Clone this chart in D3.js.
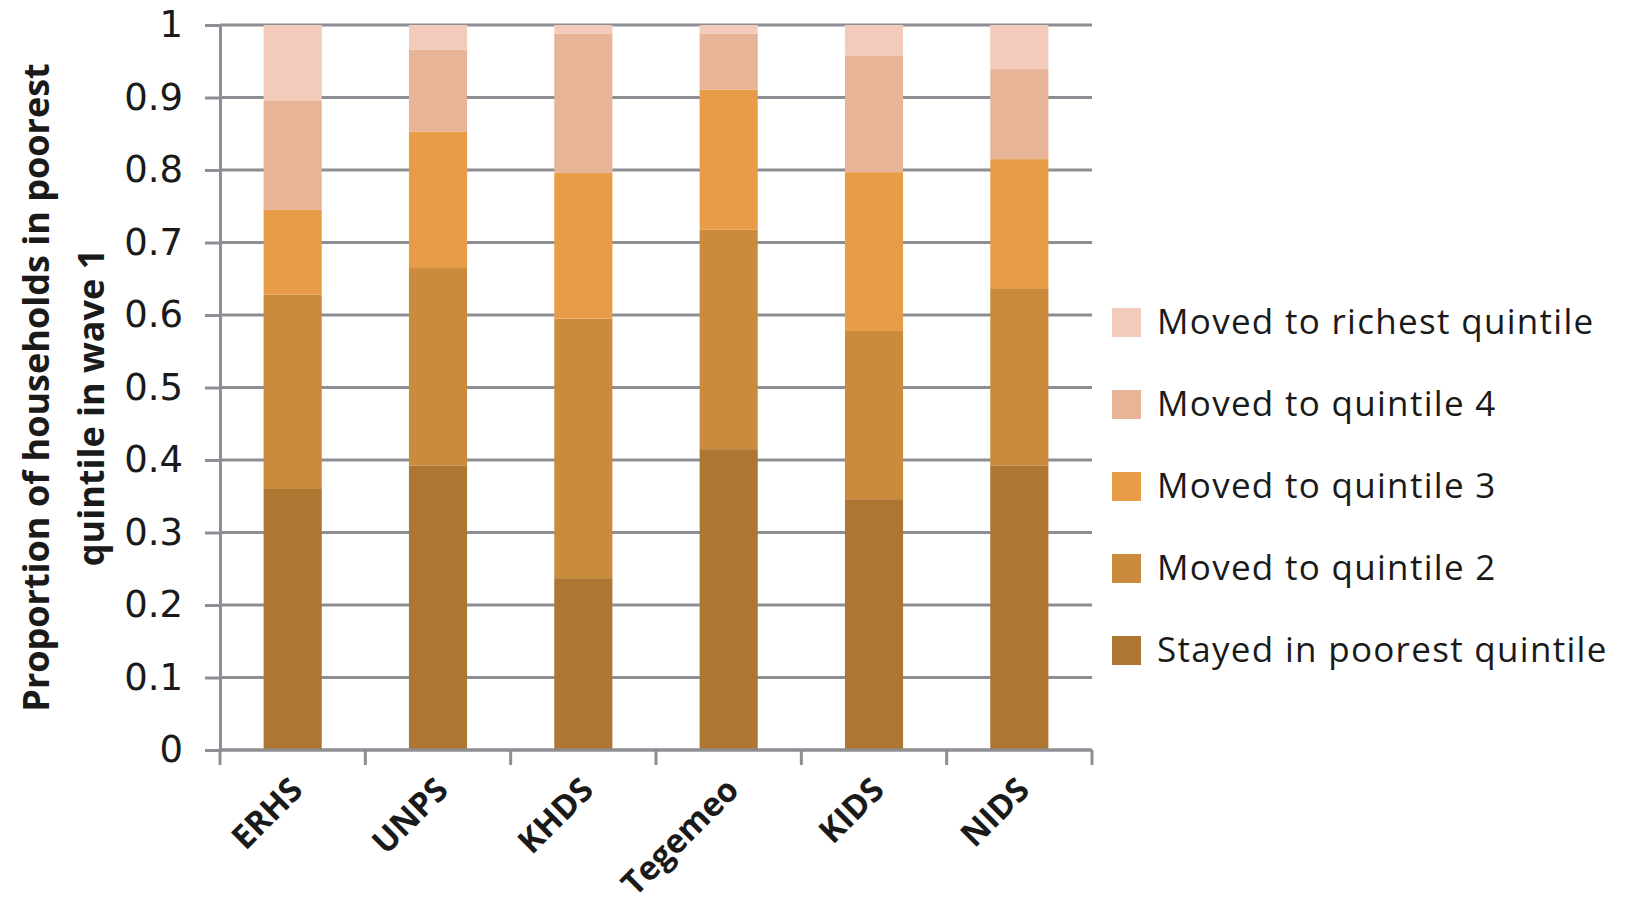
<!DOCTYPE html>
<html>
<head>
<meta charset="utf-8">
<script src="https://cdn.jsdelivr.net/npm/d3@7"></script>
<style>
  body { margin: 0; background: #fff; }
  svg { display: block; }
</style>
</head>
<body>
<div id="chart"></div>
<script>
'use strict';

var surveys = ['ERHS', 'UNPS', 'KHDS', 'Tegemeo', 'KIDS', 'NIDS'];

// bottom to top
var seriesNames = [
    'Stayed in poorest quintile',
    'Moved to quintile 2',
    'Moved to quintile 3',
    'Moved to quintile 4',
    'Moved to richest quintile'
];
var stayed    = [0.360, 0.392, 0.237, 0.415, 0.346, 0.392];
var quintile2 = [0.268, 0.274, 0.358, 0.303, 0.232, 0.245];
var quintile3 = [0.117, 0.187, 0.201, 0.193, 0.219, 0.178];
var quintile4 = [0.151, 0.113, 0.192, 0.077, 0.161, 0.125];
var richest   = [0.104, 0.034, 0.012, 0.012, 0.042, 0.060];
var colors = ['#ad7733', '#cb8b3c', '#e99c48', '#e8b497', '#f3cbbb'];

var yTicks = [0, 0.1, 0.2, 0.3, 0.4, 0.5, 0.6, 0.7, 0.8, 0.9, 1];

var W = 1627, H = 909;
var margin = { left: 220, right: 535, top: 25, bottom: 159 };
var gridColor = '#8d8e93';

var rows = surveys.map(function (s, i) {
    return {
        survey: s,
        s0: stayed[i], s1: quintile2[i], s2: quintile3[i], s3: quintile4[i], s4: richest[i]
    };
});
var keys = ['s0', 's1', 's2', 's3', 's4'];
var stacked = d3.stack().keys(keys)(rows);

var svg = d3.select('#chart').append('svg')
    .attr('width', W).attr('height', H);

var x = d3.scaleBand()
    .domain(surveys)
    .range([margin.left, W - margin.right])
    .paddingInner(0.6)
    .paddingOuter(0.3);

var y = d3.scaleLinear()
    .domain([0, 1])
    .range([H - margin.bottom, margin.top]);

// grid + y axis
var yAxis = svg.append('g')
    .attr('transform', 'translate(' + margin.left + ',0)')
    .call(d3.axisLeft(y).tickValues(yTicks).tickSize(15).tickPadding(22)
        .tickFormat(function (d) { return d === 0 || d === 1 ? d3.format('d')(d) : d3.format('.1f')(d); }));
yAxis.select('.domain').attr('stroke', gridColor).attr('stroke-width', 3);
yAxis.selectAll('.tick line').attr('stroke', gridColor).attr('stroke-width', 3);
yAxis.selectAll('.tick text')
    .attr('font-family', 'DejaVu Sans, Verdana, sans-serif')
    .attr('font-size', 37)
    .attr('fill', '#1a1a1a');

svg.append('g').selectAll('line')
    .data(yTicks)
    .enter().append('line')
    .attr('x1', margin.left).attr('x2', W - margin.right)
    .attr('y1', function (d) { return y(d); })
    .attr('y2', function (d) { return y(d); })
    .attr('stroke', gridColor)
    .attr('stroke-width', 3);

// bars
svg.append('g').selectAll('g')
    .data(stacked)
    .enter().append('g')
    .attr('fill', function (d, i) { return colors[i]; })
    .selectAll('rect')
    .data(function (d) { return d; })
    .enter().append('rect')
    .attr('x', function (d) { return x(d.data.survey); })
    .attr('width', x.bandwidth())
    .attr('y', function (d) { return y(d[1]); })
    .attr('height', function (d) { return y(d[0]) - y(d[1]); });

// x axis: ticks between categories
var step = x.step();
var xBounds = d3.range(surveys.length + 1).map(function (i) {
    return margin.left + i * step;
});
var xAxis = svg.append('g');
xAxis.append('line')
    .attr('x1', margin.left).attr('x2', W - margin.right)
    .attr('y1', y(0)).attr('y2', y(0))
    .attr('stroke', gridColor).attr('stroke-width', 3);
xAxis.selectAll('line.tick')
    .data(xBounds)
    .enter().append('line')
    .attr('class', 'tick')
    .attr('x1', function (d) { return d; })
    .attr('x2', function (d) { return d; })
    .attr('y1', y(0)).attr('y2', y(0) + 15)
    .attr('stroke', gridColor).attr('stroke-width', 3);

xAxis.selectAll('text')
    .data(surveys)
    .enter().append('text')
    .attr('transform', function (d) {
        return 'translate(' + (x(d) + x.bandwidth() / 2 + 12) + ',' + (y(0) + 42) + ') rotate(-45)';
    })
    .attr('text-anchor', 'end')
    .attr('font-family', 'Open Sans, sans-serif')
    .attr('font-weight', 'bold')
    .attr('font-size', 33)
    .attr('fill', '#1a1a1a')
    .text(function (d) { return d; });

// y title
var yTitle = svg.append('text')
    .attr('transform', 'translate(36,' + y(0.5) + ') rotate(-90)')
    .attr('text-anchor', 'middle')
    .attr('font-family', 'Open Sans, sans-serif')
    .attr('font-weight', 'bold')
    .attr('font-size', 36)
    .attr('fill', '#1a1a1a');
yTitle.append('tspan').attr('x', 0).attr('dy', '0.35em').text('Proportion of households in poorest');
yTitle.append('tspan').attr('x', -20).attr('dy', 55).text('quintile in wave 1');

// legend, top to bottom: richest first
var legendItems = seriesNames.map(function (n, i) { return { name: n, color: colors[i] }; }).reverse();
var legend = svg.append('g')
    .attr('transform', 'translate(1112,322)');
var item = legend.selectAll('g')
    .data(legendItems)
    .enter().append('g')
    .attr('transform', function (d, i) { return 'translate(0,' + (i * 82) + ')'; });
item.append('rect')
    .attr('x', 0).attr('y', -14)
    .attr('width', 29).attr('height', 29)
    .attr('fill', function (d) { return d.color; });
item.append('text')
    .attr('x', 45).attr('y', 0).attr('dy', '0.35em')
    .attr('font-family', 'Open Sans, sans-serif')
    .attr('font-size', 35)
    .attr('letter-spacing', 1.3)
    .attr('fill', '#1a1a1a')
    .text(function (d) { return d.name; });
</script>
</body>
</html>
